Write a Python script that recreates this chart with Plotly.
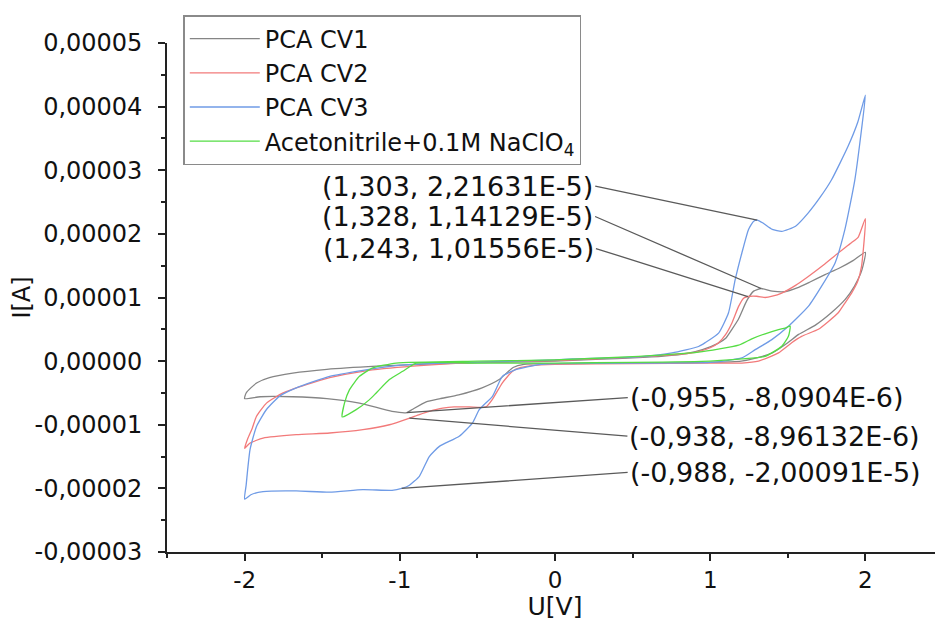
import plotly.graph_objects as go

# ---------------- data (U in V, I in A) ----------------
CV1_U = [0.0, 0.3, 0.5, 0.7, 0.85, 0.95, 1.05, 1.10, 1.14, 1.18, 1.236, 1.28, 1.328, 1.40, 1.48, 1.56, 1.64, 1.74, 1.83, 1.92, 2.0,
         1.985, 1.97, 1.93, 1.87, 1.78, 1.68, 1.57, 1.50, 1.40, 1.30, 1.20, 1.0, 0.5, 0.0, -0.2, -0.27, -0.36, -0.47, -0.62,
         -0.74, -0.83, -0.92, -0.955, -1.05, -1.26, -1.47, -1.69, -1.90, -2.0,
         -1.99, -1.96, -1.92, -1.84, -1.69, -1.47, -1.15, -0.83, -0.4, 0.0]
CV1_I = [0.0e-5, 0.03e-5, 0.05e-5, 0.08e-5, 0.12e-5, 0.18e-5, 0.28e-5, 0.36e-5, 0.50e-5, 0.65e-5, 0.95e-5, 1.10e-5, 1.14129e-5,
         1.10e-5, 1.09e-5, 1.15e-5, 1.24e-5, 1.36e-5, 1.46e-5, 1.58e-5, 1.71e-5,
         1.50e-5, 1.38e-5, 1.18e-5, 0.97e-5, 0.76e-5, 0.57e-5, 0.42e-5, 0.29e-5, 0.13e-5, 0.05e-5, 0.0e-5, -0.02e-5, -0.03e-5,
         -0.04e-5, -0.05e-5, -0.10e-5, -0.29e-5, -0.42e-5, -0.53e-5, -0.59e-5, -0.64e-5, -0.76e-5, -0.80904e-5, -0.79e-5,
         -0.66e-5, -0.59e-5, -0.56e-5, -0.56e-5, -0.59e-5,
         -0.50e-5, -0.42e-5, -0.34e-5, -0.26e-5, -0.19e-5, -0.13e-5, -0.08e-5, -0.045e-5, -0.02e-5, 0.0e-5]

CV2_U = [0.0, 0.3, 0.5, 0.7, 0.85, 0.925, 1.0, 1.054, 1.10, 1.14, 1.183, 1.215, 1.243, 1.30, 1.354, 1.40, 1.461, 1.55, 1.632,
         1.73, 1.825, 1.91, 1.954, 2.0,
         1.975, 1.95, 1.911, 1.87, 1.825, 1.76, 1.697, 1.589, 1.525, 1.44, 1.311, 1.204, 1.0, 0.5, 0.0, -0.15, -0.22, -0.274,
         -0.339, -0.403, -0.445, -0.55, -0.65, -0.724, -0.81, -0.874, -0.938, -1.067, -1.238, -1.452, -1.667, -1.881, -1.967, -2.0,
         -1.98, -1.95, -1.924, -1.859, -1.752, -1.602, -1.452, -1.238, -0.917, -0.5, 0.0]
CV2_I = [0.01e-5, 0.04e-5, 0.06e-5, 0.09e-5, 0.12e-5, 0.15e-5, 0.21e-5, 0.29e-5, 0.42e-5, 0.60e-5, 0.86e-5, 0.99e-5, 1.01556e-5,
         1.02e-5, 1.00e-5, 1.02e-5, 1.07e-5, 1.19e-5, 1.33e-5, 1.51e-5, 1.70e-5, 1.86e-5, 1.95e-5, 2.24e-5,
         1.49e-5, 1.25e-5, 1.07e-5, 0.92e-5, 0.76e-5, 0.62e-5, 0.50e-5, 0.39e-5, 0.29e-5, 0.13e-5, 0.0e-5, -0.03e-5, -0.03e-5,
         -0.04e-5, -0.05e-5, -0.07e-5, -0.10e-5, -0.16e-5, -0.34e-5, -0.60e-5, -0.72e-5, -0.72e-5, -0.72e-5, -0.74e-5, -0.79e-5,
         -0.84e-5, -0.896132e-5, -1.0e-5, -1.077e-5, -1.13e-5, -1.156e-5, -1.21e-5, -1.29e-5, -1.37e-5,
         -1.22e-5, -1.05e-5, -0.87e-5, -0.66e-5, -0.50e-5, -0.37e-5, -0.26e-5, -0.16e-5, -0.08e-5, -0.02e-5, 0.01e-5]

CV3_U = [0.0, 0.111, 0.54, 0.754, 0.925, 0.968, 1.054, 1.118, 1.161, 1.204, 1.247, 1.28, 1.303, 1.34, 1.40, 1.461, 1.55,
         1.632, 1.71, 1.782, 1.889, 1.95, 2.0,
         1.975, 1.932, 1.868, 1.804, 1.718, 1.632, 1.504, 1.397, 1.29, 1.204, 1.0, 0.5, 0.0, -0.103, -0.253, -0.339, -0.403,
         -0.488, -0.531, -0.617, -0.745, -0.81, -0.874, -0.938, -0.988, -1.05, -1.238, -1.452, -1.667, -1.881, -1.96, -2.0,
         -1.99, -1.98, -1.965, -1.924, -1.859, -1.774, -1.667, -1.452, -1.238, -1.024, -0.81, -0.4, 0.0]
CV3_I = [0.02e-5, 0.035e-5, 0.066e-5, 0.13e-5, 0.23e-5, 0.29e-5, 0.44e-5, 0.76e-5, 1.28e-5, 1.70e-5, 2.07e-5, 2.20e-5, 2.21631e-5,
         2.17e-5, 2.07e-5, 2.04e-5, 2.12e-5, 2.33e-5, 2.58e-5, 2.85e-5, 3.38e-5, 3.75e-5, 4.18e-5,
         3.64e-5, 2.85e-5, 2.07e-5, 1.54e-5, 1.18e-5, 0.86e-5, 0.547e-5, 0.338e-5, 0.18e-5, 0.05e-5, -0.02e-5, -0.03e-5,
         -0.04e-5, -0.055e-5, -0.134e-5, -0.24e-5, -0.553e-5, -0.763e-5, -0.97e-5, -1.18e-5, -1.34e-5, -1.5e-5, -1.81e-5,
         -1.95e-5, -2.00091e-5, -2.03e-5, -2.02e-5, -2.06e-5, -2.04e-5, -2.05e-5, -2.10e-5, -2.17e-5,
         -1.95e-5, -1.70e-5, -1.39e-5, -1.03e-5, -0.76e-5, -0.55e-5, -0.42e-5, -0.24e-5, -0.145e-5, -0.07e-5, -0.04e-5,
         -0.01e-5, 0.02e-5]

ACN_U = [0.0, 0.54, 0.925, 1.183, 1.268, 1.354, 1.44, 1.483, 1.515,
         1.504, 1.461, 1.354, 1.204, 1.0, 0.5, 0.0, -0.5, -0.895, -0.981, -1.067, -1.152, -1.195, -1.281, -1.371,
         -1.356, -1.324, -1.26, -1.174, -1.024, -0.5, 0.0]
ACN_I = [0.02e-5, 0.075e-5, 0.14e-5, 0.25e-5, 0.35e-5, 0.43e-5, 0.495e-5, 0.52e-5, 0.55e-5,
         0.39e-5, 0.233e-5, 0.075e-5, 0.035e-5, 0.0e-5, -0.02e-5, -0.03e-5, -0.03e-5, -0.03e-5, -0.16e-5, -0.29e-5,
         -0.50e-5, -0.605e-5, -0.763e-5, -0.877e-5,
         -0.657e-5, -0.448e-5, -0.239e-5, -0.107e-5, -0.03e-5, 0.0e-5, 0.02e-5]

SERIES_NAMES = ["PCA CV1", "PCA CV2", "PCA CV3", "Acetonitrile+0.1M NaClO<sub>4</sub>"]

X_TICKS = [-2, -1, 0, 1, 2]
X_TICK_LABELS = ["-2", "-1", "0", "1", "2"]
Y_TICKS = [-3e-5, -2e-5, -1e-5, 0.0, 1e-5, 2e-5, 3e-5, 4e-5, 5e-5]
Y_TICK_LABELS = ["-0,00003", "-0,00002", "-0,00001", "0,00000", "0,00001",
                 "0,00002", "0,00003", "0,00004", "0,00005"]

ANN_U = [1.303, 1.328, 1.243, -0.955, -0.938, -0.988]
ANN_I = [2.21631e-5, 1.14129e-5, 1.01556e-5, -8.0904e-6, -8.96132e-6, -2.00091e-5]
ANN_TEXT = ["(1,303, 2,21631E-5)", "(1,328, 1,14129E-5)", "(1,243, 1,01556E-5)",
            "(-0,955, -8,0904E-6)", "(-0,938, -8,96132E-6)", "(-0,988, -2,00091E-5)"]

# ---------------- styling ----------------
COLORS = ["#858585", "#f27a7a", "#6f9be6", "#55dd44"]
ANN_OFFSETS = [(-162, -34, "right"), (-166, -72, "right"), (-152, -48, "right"),
               (221, -15, "left"), (218, 18, "left"), (226, -16, "left")]
FONT = "DejaVu Sans"
AXC = "#222222"

fig = go.Figure()
for u, i, name, c in zip([CV1_U, CV2_U, CV3_U, ACN_U], [CV1_I, CV2_I, CV3_I, ACN_I], SERIES_NAMES, COLORS):
    fig.add_trace(go.Scatter(x=u, y=i, mode="lines", name=name,
                             line=dict(color=c, width=1.3, shape="spline", smoothing=0.5)))

for u, i, t, (ax, ay, xa) in zip(ANN_U, ANN_I, ANN_TEXT, ANN_OFFSETS):
    fig.add_annotation(x=u, y=i, text=t, showarrow=True, arrowhead=0, arrowwidth=1.3,
                       arrowcolor="#5a5a5a", ax=ax, ay=ay, xanchor=xa, yanchor="middle",
                       standoff=0, font=dict(family=FONT, size=27, color="#111"))

# the page body adds an 8 px offset, so the figure is 8 px smaller on left/top
fig.update_layout(
    width=935, height=613,
    margin=dict(l=159, r=0, t=35, b=69),
    plot_bgcolor="white", paper_bgcolor="white",
    font=dict(family=FONT, color="#111"),
    legend=dict(x=0.021, y=1.055, xanchor="left", yanchor="top",
                bgcolor="white", bordercolor="#8a8a8a", borderwidth=1.5,
                font=dict(family=FONT, size=24, color="#111"), itemwidth=70),
)
fig.update_xaxes(range=[-2.5, 2.5], tickmode="array", tickvals=X_TICKS, ticktext=X_TICK_LABELS,
                 ticks="outside", ticklen=7, tickwidth=1.5, tickcolor=AXC,
                 showline=True, linecolor=AXC, linewidth=1.6, showgrid=False, zeroline=False,
                 tickfont=dict(family=FONT, size=23, color="#111"),
                 minor=dict(tickmode="linear", tick0=0, dtick=0.5, ticks="outside", ticklen=4,
                            tickwidth=1.5, tickcolor=AXC, showgrid=False),
                 title=dict(text="U[V]", font=dict(family=FONT, size=25, color="#111"), standoff=0),
                 automargin=False)
fig.update_yaxes(range=[-3e-5, 5e-5], tickmode="array", tickvals=Y_TICKS, ticktext=Y_TICK_LABELS,
                 ticks="outside", ticklen=7, tickwidth=1.5, tickcolor=AXC,
                 showline=True, linecolor=AXC, linewidth=1.6, showgrid=False, zeroline=False,
                 tickfont=dict(family=FONT, size=24, color="#111"), ticklabelstandoff=11,
                 minor=dict(tickmode="linear", tick0=0, dtick=0.5e-5, ticks="outside", ticklen=4,
                            tickwidth=1.5, tickcolor=AXC, showgrid=False),
                 title=dict(text="I[A]", font=dict(family=FONT, size=24, color="#111"), standoff=6),
                 automargin=False)

fig.write_html("out.html")
